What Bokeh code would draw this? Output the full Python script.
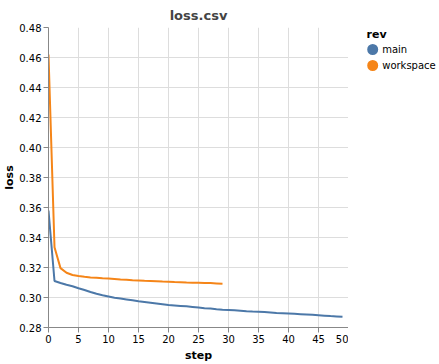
from bokeh.plotting import figure
from bokeh.layouts import row
from bokeh.models import Range1d, SingleIntervalTicker, PrintfTickFormatter
from bokeh.core.properties import value
from bokeh.embed import file_html
from bokeh.resources import INLINE

main_step = list(range(50))
main_loss = [0.358, 0.311, 0.3097, 0.3085, 0.3075, 0.3062, 0.305, 0.3037, 0.3025, 0.3015,
             0.3007, 0.2999, 0.2993, 0.2987, 0.2981, 0.2975, 0.297, 0.2965, 0.296, 0.2955,
             0.295, 0.2947, 0.2944, 0.2941, 0.2937, 0.2933, 0.2929, 0.2926, 0.2922, 0.2919,
             0.2917, 0.2915, 0.2912, 0.2908, 0.2906, 0.2905, 0.2903, 0.29, 0.2897, 0.2895,
             0.2893, 0.2891, 0.2889, 0.2887, 0.2885, 0.2882, 0.2879, 0.2876, 0.2874, 0.2872]
ws_step = list(range(30))
ws_loss = [0.462, 0.3335, 0.3196, 0.3165, 0.315, 0.3143, 0.3138, 0.3134, 0.3131, 0.3128,
           0.3126, 0.3123, 0.312, 0.3118, 0.3115, 0.3113, 0.3111, 0.311, 0.3108, 0.3106,
           0.3105, 0.3103, 0.3102, 0.31, 0.3099, 0.3098, 0.3097, 0.3096, 0.3094, 0.3092]
series = ["main", "workspace"]
colors = ["#4c78a8", "#f58518"]
legend_title = "rev"
FONT = "DejaVu Sans"

p = figure(frame_width=300, frame_height=300, x_range=Range1d(0, 50), y_range=Range1d(0.28, 0.48),
           output_backend="svg", toolbar_location=None, title="loss.csv",
           min_border_left=40, min_border_top=27, min_border_right=0, min_border_bottom=30)
p.outline_line_color = None
p.title.align = "center"
p.title.text_font = FONT
p.title.text_font_size = "13px"
p.title.text_font_style = "bold"
p.title.standoff = 10
p.title.offset = 0

for ax in (p.xaxis[0], p.yaxis[0]):
    ax.axis_line_color = "#888888"
    ax.major_tick_line_color = "#888888"
    ax.minor_tick_line_color = None
    ax.major_tick_out = 5
    ax.major_tick_in = 0
    ax.major_label_text_font = FONT
    ax.major_label_text_font_size = "10px"
    ax.major_label_text_color = "#000000"
    ax.major_label_standoff = 2
    ax.axis_label_text_font = FONT
    ax.axis_label_text_font_size = "11px"
    ax.axis_label_text_font_style = "bold"
    ax.axis_label_text_color = "#000000"
    ax.axis_label_standoff = 0
p.xaxis[0].axis_label_standoff = 3
p.xaxis[0].ticker = SingleIntervalTicker(interval=5)
p.yaxis[0].ticker = SingleIntervalTicker(interval=0.02)
p.yaxis[0].formatter = PrintfTickFormatter(format="%.2f")
p.xaxis.axis_label = "step"
p.yaxis.axis_label = "loss"
p.grid.grid_line_color = "#dddddd"

p.line(main_step, main_loss, line_color=colors[0], line_width=2)
p.line(ws_step, ws_loss, line_color=colors[1], line_width=2)

# legend panel; its frame is aligned with the main frame (x to the right, y downward, in px)
LW, LH = 90, 300
lf = figure(frame_width=LW, frame_height=LH, x_range=Range1d(0, LW), y_range=Range1d(LH, 0),
            output_backend="svg", toolbar_location=None,
            min_border_left=0, min_border_right=0, min_border_top=0, min_border_bottom=0,
            x_axis_location=None, y_axis_location=None)
lf.grid.visible = False
lf.outline_line_color = None
sym_x, lab_x, title_x = 24.2, 33.7, 18
title_y, item_y0, pitch = 6.5, 22, 16
ys = [item_y0 + pitch * i for i in range(len(series))]
lf.scatter(x=[sym_x] * len(series), y=ys, marker="circle", size=11, fill_color=colors, line_color=None)
lf.text(x=[lab_x] * len(series), y=ys, text=series, text_font=value(FONT), text_font_size="10px",
        text_baseline="middle", text_align="left", text_color="#000000")
lf.text(x=[title_x], y=[title_y], text=[legend_title], text_font=value(FONT), text_font_size="11px",
        text_font_style="bold", text_baseline="middle", text_align="left", text_color="#000000")

layout = row(p, lf)
open("out.html", "w").write(file_html(layout, INLINE))
